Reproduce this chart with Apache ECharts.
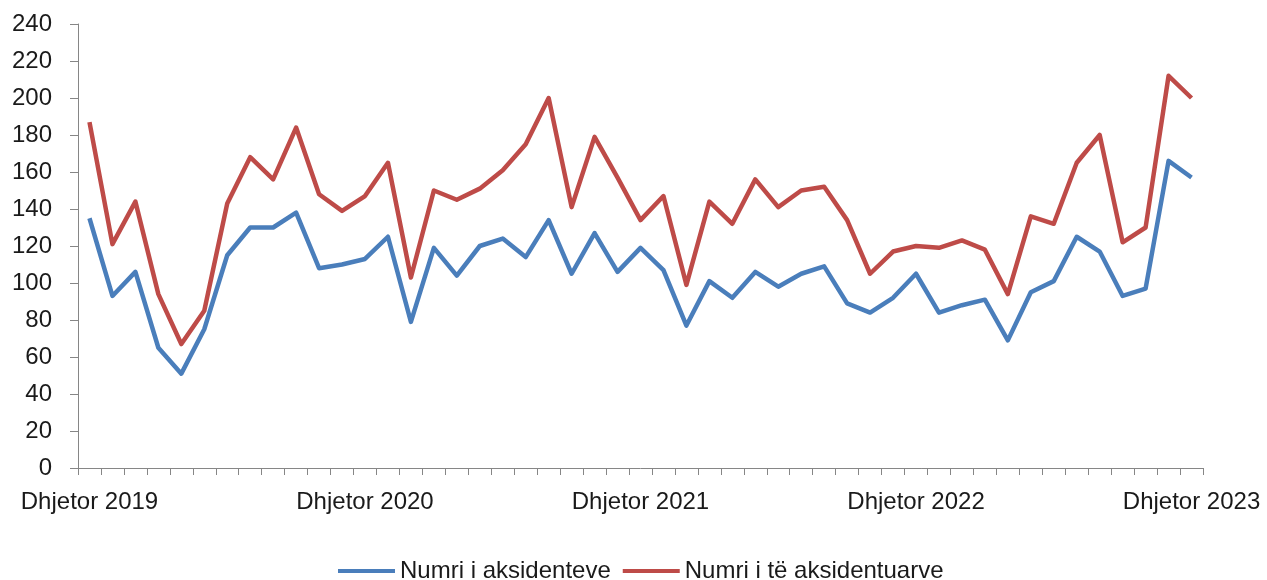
<!DOCTYPE html>
<html>
<head>
<meta charset="utf-8">
<script src="https://cdn.jsdelivr.net/npm/echarts@6/dist/echarts.min.js"></script>
<style>
html, body { margin: 0; padding: 0; background: #fff; }
#container { width: 1267px; height: 580px; }
</style>
</head>
<body>
<div id="container"></div>
<script>
// muajt, nga Dhjetor 2019 deri Dhjetor 2023
var monthNames = ['Janar', 'Shkurt', 'Mars', 'Prill', 'Maj', 'Qershor',
    'Korrik', 'Gusht', 'Shtator', 'Tetor', 'Nëntor', 'Dhjetor'];
var firstYear = 2019;
var monthCount = 49;

var aksidente = [135, 93, 106, 65, 51, 75, 115, 130, 130, 138,
    108, 110, 113, 125, 79, 119, 104, 120, 124, 114,
    134, 105, 127, 106, 119, 107, 77, 101, 92, 106,
    98, 105, 109, 89, 84, 92, 105, 84, 88, 91,
    69, 95, 101, 125, 117, 93, 97, 166, 157];

var aksidentuar = [187, 121, 144, 94, 67, 85, 143, 168, 156, 184,
    148, 139, 147, 165, 103, 150, 145, 151, 161, 175,
    200, 141, 179, 157, 134, 147, 99, 144, 132, 156,
    141, 150, 152, 134, 105, 117, 120, 119, 123, 118,
    94, 136, 132, 165, 180, 122, 130, 212, 200];

var seriesNames = ['Numri i aksidenteve', 'Numri i të aksidentuarve'];

var months = [];
for (var i = 0; i < monthCount; i++) {
    var m = (11 + i) % 12;
    var y = firstYear + Math.floor((11 + i) / 12);
    months.push(monthNames[m] + ' ' + y);
}

window.onload = function()
{
var myChart = echarts.init(document.getElementById('container'));
var font = 'Liberation Sans';
var axisGray = '#868686';
var textColor = '#1a1a1a';
var option = {
    animation: false,
    textStyle: { fontFamily: font },
    grid: {
        left: 78,
        right: 64,
        top: 24,
        bottom: 112
    },
    legend: {
        left: 333,
        top: 554,
        icon: 'rect',
        itemWidth: 57,
        itemHeight: 4,
        itemGap: 12,
        textStyle: { fontSize: 24, color: textColor, fontFamily: font },
        data: seriesNames
    },
    xAxis: {
        type: 'category',
        data: months,
        boundaryGap: true,
        axisLine: { lineStyle: { color: axisGray, width: 1 } },
        axisTick: { show: true, interval: 0, length: 7, lineStyle: { color: axisGray } },
        axisLabel: {
            interval: 11,
            margin: 22,
            fontSize: 24,
            color: textColor,
            fontFamily: font
        },
        splitLine: { show: false }
    },
    yAxis: {
        type: 'value',
        min: 0,
        max: 240,
        interval: 20,
        axisLine: { show: true, lineStyle: { color: axisGray, width: 1 } },
        axisTick: { show: true, length: 8, lineStyle: { color: axisGray } },
        axisLabel: { margin: 26, fontSize: 24, color: textColor, fontFamily: font },
        splitLine: { show: false }
    },
    series: [
        {
            name: seriesNames[0],
            type: 'line',
            data: aksidente,
            symbol: 'none',
            color: '#4A7EBB',
            lineStyle: { width: 4.5, color: '#4A7EBB', join: 'round' }
        },
        {
            name: seriesNames[1],
            type: 'line',
            data: aksidentuar,
            symbol: 'none',
            color: '#BE4B48',
            lineStyle: { width: 4.5, color: '#BE4B48', join: 'round' }
        }
    ]
};
myChart.setOption(option);
};
</script>
</body>
</html>
